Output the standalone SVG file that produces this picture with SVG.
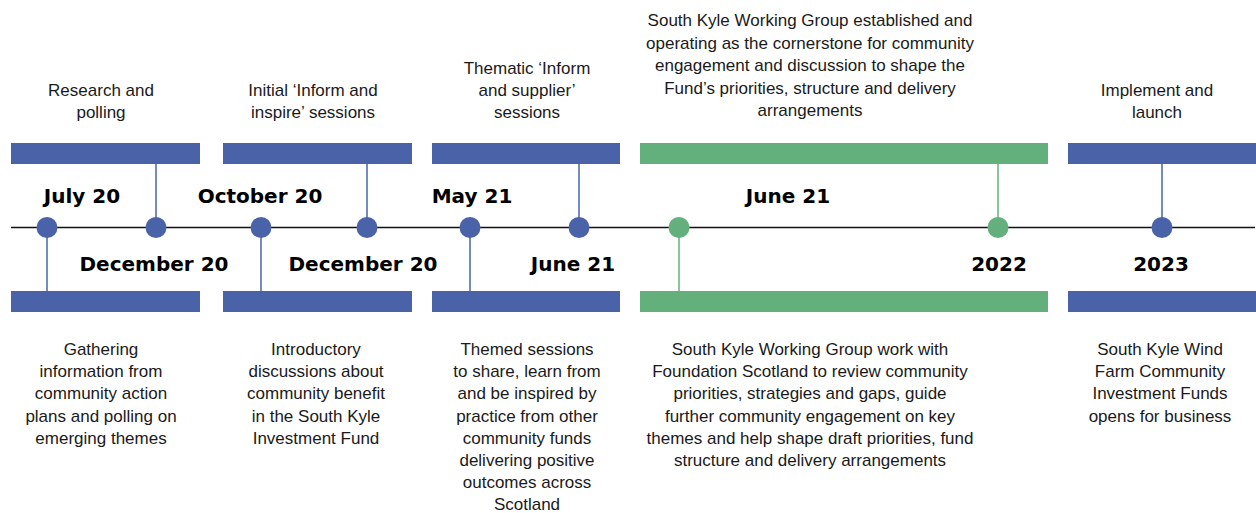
<svg xmlns="http://www.w3.org/2000/svg" width="1256" height="513" viewBox="0 0 1256 513">
<style>
.bl{fill:#4a63a8}
.gr{fill:#63b07c}
.cb{stroke:#4a63a8;stroke-width:1.5;fill:none}
.cg{stroke:#63b07c;stroke-width:1.5;fill:none}
.t{font-family:"Liberation Sans",Arial,sans-serif;font-size:17px;fill:#1a1a1a;text-anchor:middle}
.d{font-family:"DejaVu Sans",sans-serif;font-weight:bold;font-size:20px;fill:#000;text-anchor:middle}
</style>
<rect width="1256" height="513" fill="#fff"/>
<g id="connectors">
<line x1="11" y1="227.5" x2="1255" y2="227.5" stroke="#111" stroke-width="1.5"/>
<line class="cb" x1="47" y1="228" x2="47" y2="291"/>
<line class="cb" x1="156" y1="164" x2="156" y2="228"/>
<line class="cb" x1="261" y1="228" x2="261" y2="291"/>
<line class="cb" x1="367" y1="164" x2="367" y2="228"/>
<line class="cb" x1="470" y1="228" x2="470" y2="291"/>
<line class="cb" x1="579" y1="164" x2="579" y2="228"/>
<line class="cg" x1="679" y1="228" x2="679" y2="291"/>
<line class="cg" x1="998" y1="164" x2="998" y2="228"/>
<line class="cb" x1="1162" y1="164" x2="1162" y2="228"/>
</g>
<g id="points">
<circle class="bl" cx="47" cy="227.5" r="10.5"/>
<circle class="bl" cx="156" cy="227.5" r="10.5"/>
<circle class="bl" cx="261" cy="227.5" r="10.5"/>
<circle class="bl" cx="367" cy="227.5" r="10.5"/>
<circle class="bl" cx="470" cy="227.5" r="10.5"/>
<circle class="bl" cx="579" cy="227.5" r="10.5"/>
<circle class="gr" cx="679" cy="227.5" r="10.5"/>
<circle class="gr" cx="998" cy="227.5" r="10.5"/>
<circle class="bl" cx="1162" cy="227.5" r="10.5"/>
</g>
<g id="dates">
<text class="d" x="82" y="202.5">July 20</text>
<text class="d" x="260" y="202.5">October 20</text>
<text class="d" x="472" y="202.5">May 21</text>
<text class="d" x="788" y="202.5">June 21</text>
<text class="d" x="154" y="270.5">December 20</text>
<text class="d" x="363" y="270.5">December 20</text>
<text class="d" x="573" y="270.5">June 21</text>
<text class="d" x="999" y="270.5">2022</text>
<text class="d" x="1161" y="270.5">2023</text>
</g>
<g id="top-research">
<rect class="bl" x="11" y="143" width="189" height="21"/>
<text class="t" x="101" y="95.5">Research and</text>
<text class="t" x="101" y="117.5">polling</text>
</g>
<g id="top-initial">
<rect class="bl" x="223" y="143" width="189" height="21"/>
<text class="t" x="313" y="95.5">Initial ‘Inform and</text>
<text class="t" x="313" y="117.5">inspire’ sessions</text>
</g>
<g id="top-thematic">
<rect class="bl" x="432" y="143" width="188" height="21"/>
<text class="t" x="527" y="73.5">Thematic ‘Inform</text>
<text class="t" x="527" y="95.5">and supplier’</text>
<text class="t" x="527" y="117.5">sessions</text>
</g>
<g id="top-working-group">
<rect class="gr" x="640" y="143" width="408" height="21"/>
<text class="t" x="810" y="26">South Kyle Working Group established and</text>
<text class="t" x="810" y="48.5">operating as the cornerstone for community</text>
<text class="t" x="810" y="71">engagement and discussion to shape the</text>
<text class="t" x="810" y="93.5">Fund’s priorities, structure and delivery</text>
<text class="t" x="810" y="116">arrangements</text>
</g>
<g id="top-implement">
<rect class="bl" x="1068" y="143" width="188" height="21"/>
<text class="t" x="1157" y="95.5">Implement and</text>
<text class="t" x="1157" y="117.5">launch</text>
</g>
<g id="bottom-gathering">
<rect class="bl" x="11" y="291" width="189" height="21"/>
<text class="t" x="101" y="355">Gathering</text>
<text class="t" x="101" y="377.2">information from</text>
<text class="t" x="101" y="399.4">community action</text>
<text class="t" x="101" y="421.6">plans and polling on</text>
<text class="t" x="101" y="443.8">emerging themes</text>
</g>
<g id="bottom-introductory">
<rect class="bl" x="223" y="291" width="189" height="21"/>
<text class="t" x="316" y="355">Introductory</text>
<text class="t" x="316" y="377.2">discussions about</text>
<text class="t" x="316" y="399.4">community benefit</text>
<text class="t" x="316" y="421.6">in the South Kyle</text>
<text class="t" x="316" y="443.8">Investment Fund</text>
</g>
<g id="bottom-themed">
<rect class="bl" x="432" y="291" width="188" height="21"/>
<text class="t" x="527" y="355">Themed sessions</text>
<text class="t" x="527" y="377.2">to share, learn from</text>
<text class="t" x="527" y="399.4">and be inspired by</text>
<text class="t" x="527" y="421.6">practice from other</text>
<text class="t" x="527" y="443.8">community funds</text>
<text class="t" x="527" y="466">delivering positive</text>
<text class="t" x="527" y="488.2">outcomes across</text>
<text class="t" x="527" y="510">Scotland</text>
</g>
<g id="bottom-working-group">
<rect class="gr" x="640" y="291" width="408" height="21"/>
<text class="t" x="810" y="355">South Kyle Working Group work with</text>
<text class="t" x="810" y="377.2">Foundation Scotland to review community</text>
<text class="t" x="810" y="399.4">priorities, strategies and gaps, guide</text>
<text class="t" x="810" y="421.6">further community engagement on key</text>
<text class="t" x="810" y="443.8">themes and help shape draft priorities, fund</text>
<text class="t" x="810" y="466">structure and delivery arrangements</text>
</g>
<g id="bottom-opens">
<rect class="bl" x="1068" y="291" width="188" height="21"/>
<text class="t" x="1160" y="355">South Kyle Wind</text>
<text class="t" x="1160" y="377.2">Farm Community</text>
<text class="t" x="1160" y="399.4">Investment Funds</text>
<text class="t" x="1160" y="421.6">opens for business</text>
</g>
</svg>
